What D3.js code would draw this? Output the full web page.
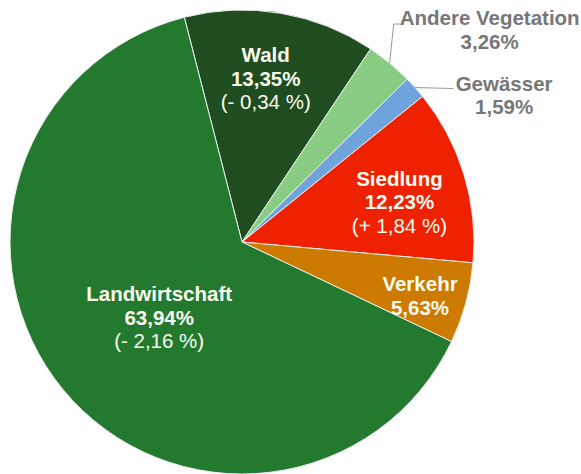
<!DOCTYPE html>
<html>
<head>
    <meta charset="utf-8">
    <style>
        body { margin: 0; background: #fff; }
        svg { display: block; font-family: "Liberation Sans", Arial, sans-serif; }
        .lbl { font-size: 20.5px; text-anchor: middle; }
        .inner { fill: #fbfbf0; }
        .outer { fill: #777; font-weight: bold; }
    </style>
</head>
<body>
<svg width="581" height="474"></svg>

<script src="https://d3js.org/d3.v7.min.js"></script>
<script>
    // data
    let categories = ["Wald", "Andere Vegetation", "Gewässer", "Siedlung", "Verkehr", "Landwirtschaft"];
    let shares = [13.35, 3.26, 1.59, 12.23, 5.63, 63.94];
    let changes = ["(- 0,34 %)", null, null, "(+ 1,84 %)", null, "(- 2,16 %)"];
    let colors = ["#1f4d1f", "#88cc84", "#6fa3dc", "#ee2200", "#cc7a00", "#237a2e"];

    let cx = 242, cy = 242, radius = 232;
    let startDeg = -14.4;
    let lineH = 23.5;

    let svg = d3.select("svg");
    let g = svg.append("g").attr("transform", `translate(${cx},${cy})`);

    let pie = d3.pie()
        .sort(null)
        .value(d => d.share)
        .startAngle(startDeg * Math.PI / 180)
        .endAngle((startDeg + 360) * Math.PI / 180);

    let data = categories.map((c, i) => ({ name: c, share: shares[i], change: changes[i], color: colors[i] }));
    let arcs = pie(data);

    let arc = d3.arc().innerRadius(0).outerRadius(radius);

    g.selectAll(".slice")
        .data(arcs)
        .join("path")
        .attr("class", "slice")
        .attr("d", arc)
        .style("fill", d => d.data.color)
        .style("stroke", "#eee")
        .style("stroke-width", 1);

    let fmt = v => v.toFixed(2).replace(".", ",") + "%";

    // inside labels: radius fraction along mid angle, plus a small nudge
    let insidePos = {
        "Wald": { k: 0.714, dx: -4, dy: 0 },
        "Siedlung": { k: 0.70, dx: 2, dy: 7 },
        "Verkehr": { k: 0.80, dx: -1, dy: 5 },
        "Landwirtschaft": { k: 0.485, dx: 4, dy: 4 }
    };

    arcs.forEach(d => {
        let mid = (d.startAngle + d.endAngle) / 2;
        let x, y, cls;
        let p = insidePos[d.data.name];
        if (p) {
            x = Math.sin(mid) * radius * p.k + p.dx;
            y = -Math.cos(mid) * radius * p.k + p.dy;
            cls = "inner";
        } else {
            // outside label with leader line
            let px = Math.sin(mid) * radius, py = -Math.cos(mid) * radius;
            let pts;
            if (d.data.name === "Andere Vegetation") {
                pts = [[px, py], [px + 4, py - 39], [px + 12, py - 39]];
                x = px + 100; y = py - 33;
            } else {
                pts = [[px, py], [px + 38, py + 1]];
                x = px + 89; y = py + 8;
            }
            g.append("path")
                .attr("d", d3.line()(pts))
                .style("fill", "none")
                .style("stroke", "#999")
                .style("stroke-width", 1);
            cls = "outer";
        }
        let lines = [d.data.name, fmt(d.data.share)];
        if (d.data.change) lines.push(d.data.change);
        let top = y - (lines.length - 1) * lineH / 2;
        let t = g.append("text").attr("class", "lbl " + cls);
        lines.forEach((s, i) => {
            t.append("tspan")
                .attr("x", x)
                .attr("y", top + i * lineH)
                .attr("dy", "0.35em")
                .style("font-weight", i < 2 ? "bold" : "normal")
                .text(s);
        });
    });
</script>
</body>
</html>
